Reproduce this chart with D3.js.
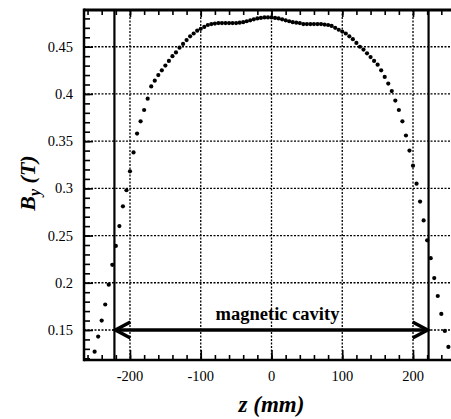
<!DOCTYPE html>
<html>
<head>
<meta charset="utf-8">
<script src="https://cdn.jsdelivr.net/npm/d3@7"></script>
</head>
<body style="margin:0">
<div id="chart"></div>
<script>
// field profile, sampled every 5 mm
var zVals = [-250,-245,-240,-235,-230,-225,-220,-215,-210,-205,-200,-195,-190,-185,-180,-175,-170,-165,-160,-155,
  -150,-145,-140,-135,-130,-125,-120,-115,-110,-105,-100,-95,-90,-85,-80,-75,-70,-65,-60,-55,
  -50,-45,-40,-35,-30,-25,-20,-15,-10,-5,0,5,10,15,20,25,30,35,40,45,
  50,55,60,65,70,75,80,85,90,95,100,105,110,115,120,125,130,135,140,145,
  150,155,160,165,170,175,180,185,190,195,200,205,210,215,220,225,230,235,240,245,250];
var byVals = [0.127,0.143,0.160,0.177,0.198,0.219,0.239,0.260,0.281,0.298,0.318,0.338,0.358,0.371,0.383,0.395,0.408,0.414,0.420,0.425,
  0.430,0.435,0.440,0.444,0.449,0.453,0.457,0.461,0.464,0.467,0.469,0.471,0.473,0.474,0.4745,0.475,0.475,0.475,0.475,0.475,
  0.475,0.4755,0.476,0.477,0.478,0.479,0.480,0.4805,0.481,0.481,0.481,0.4805,0.480,0.479,0.478,0.477,0.476,0.4755,0.475,0.474,
  0.474,0.474,0.474,0.474,0.474,0.4735,0.473,0.472,0.470,0.468,0.466,0.464,0.461,0.458,0.454,0.450,0.447,0.443,0.439,0.435,
  0.431,0.425,0.418,0.411,0.403,0.393,0.383,0.371,0.356,0.340,0.324,0.305,0.286,0.266,0.245,0.226,0.205,0.186,0.167,0.149,0.132];

var xTicks = [-200,-100,0,100,200];
var yTicks = [0.15,0.2,0.25,0.3,0.35,0.4,0.45];
var xTickLabels = ["-200","-100","0","100","200"];
var yTickLabels = ["0.15","0.2","0.25","0.3","0.35","0.4","0.45"];
var cavityEdges = [-222, 222];
var cavityLabel = "magnetic cavity";
var arrowLevel = 0.15;

var width = 451, height = 419;
var margin = {top: 10, left: 84, bottom: 360, right: 459};
var serif = "Times New Roman";

var x = d3.scaleLinear().domain([-265, 265]).range([margin.left, margin.right]);
var y = d3.scaleLinear().domain([0.1182, 0.4889]).range([margin.bottom, margin.top]);

var svg = d3.select("#chart").append("svg")
  .attr("width", width)
  .attr("height", height);

// texts first
svg.selectAll("text.xl")
  .data(xTicks).enter().append("text")
  .attr("class", "xl")
  .attr("x", d => x(d)).attr("y", 381)
  .attr("text-anchor", "middle")
  .attr("font-family", serif)
  .attr("font-size", 14.5)
  .text((d, i) => xTickLabels[i]);
svg.selectAll("text.yl")
  .data(yTicks).enter().append("text")
  .attr("class", "yl")
  .attr("x", 73).attr("y", d => y(d) + 5)
  .attr("text-anchor", "end")
  .attr("font-family", serif)
  .attr("font-size", 14.5)
  .text((d, i) => yTickLabels[i]);

svg.append("text")
  .attr("x", x(0) + 6).attr("y", y(arrowLevel) - 10)
  .attr("text-anchor", "middle")
  .attr("font-family", serif)
  .attr("font-size", 18.5).attr("font-weight", "bold")
  .text(cavityLabel);

svg.append("text")
  .attr("x", x(0)).attr("y", 412)
  .attr("text-anchor", "middle")
  .attr("font-family", serif)
  .attr("font-size", 23).attr("font-weight", "bold").attr("font-style", "italic")
  .text("z (mm)");

var yt = svg.append("text")
  .attr("transform", "translate(35,183) rotate(-90)")
  .attr("text-anchor", "middle")
  .attr("font-family", serif)
  .attr("font-size", 22).attr("font-weight", "bold").attr("font-style", "italic");
yt.append("tspan").text("B");
yt.append("tspan").attr("font-size", 16).attr("dy", 5).text("y");
yt.append("tspan").attr("dy", -5).text(" (T)");

// dotted grid
svg.append("g").selectAll("line")
  .data(xTicks).enter().append("line")
  .attr("x1", d => x(d)).attr("x2", d => x(d))
  .attr("y1", margin.top).attr("y2", margin.bottom)
  .attr("stroke", "#000").attr("stroke-width", 1.3)
  .attr("stroke-dasharray", "2,1.5");
svg.append("g").selectAll("line")
  .data(yTicks).enter().append("line")
  .attr("x1", margin.left).attr("x2", margin.right)
  .attr("y1", d => y(d)).attr("y2", d => y(d))
  .attr("stroke", "#000").attr("stroke-width", 1.3)
  .attr("stroke-dasharray", "2,1.5");

// inward ticks on all four sides (labels drawn above)
var xMinor = d3.range(-260, 261, 20);
var yMinor = d3.range(0.12, 0.489, 0.01);
function tickOnly(g) {
  g.select(".domain").remove();
  g.selectAll(".tick text").remove();
  g.attr("font-family", null).attr("font-size", null);
  g.selectAll(".tick line").attr("stroke", "#000").attr("stroke-width", 1.6);
}
svg.append("g").attr("transform", "translate(0," + margin.bottom + ")")
  .call(d3.axisBottom(x).tickValues(xMinor).tickSize(-5)).call(tickOnly);
svg.append("g").attr("transform", "translate(0," + margin.top + ")")
  .call(d3.axisTop(x).tickValues(xMinor).tickSize(-5)).call(tickOnly);
svg.append("g").attr("transform", "translate(" + margin.left + ",0)")
  .call(d3.axisLeft(y).tickValues(yMinor).tickSize(-6)).call(tickOnly);
svg.append("g").attr("transform", "translate(0," + margin.bottom + ")")
  .call(d3.axisBottom(x).tickValues(xTicks).tickSize(-10)).call(tickOnly);
svg.append("g").attr("transform", "translate(0," + margin.top + ")")
  .call(d3.axisTop(x).tickValues(xTicks).tickSize(-7)).call(tickOnly);
svg.append("g").attr("transform", "translate(" + margin.left + ",0)")
  .call(d3.axisLeft(y).tickValues(yTicks).tickSize(-9)).call(tickOnly);

// frame
svg.append("line").attr("x1", margin.left).attr("x2", margin.right)
  .attr("y1", margin.top).attr("y2", margin.top).attr("stroke", "#000").attr("stroke-width", 3);
svg.append("line").attr("x1", margin.left).attr("x2", margin.right)
  .attr("y1", margin.bottom).attr("y2", margin.bottom).attr("stroke", "#000").attr("stroke-width", 2.5);
svg.append("line").attr("x1", margin.left).attr("x2", margin.left)
  .attr("y1", margin.top - 1.5).attr("y2", margin.bottom + 1.2).attr("stroke", "#000").attr("stroke-width", 2.5);

// cavity edges
svg.append("g").selectAll("line")
  .data(cavityEdges).enter().append("line")
  .attr("x1", d => x(d)).attr("x2", d => x(d))
  .attr("y1", margin.top).attr("y2", margin.bottom)
  .attr("stroke", "#000").attr("stroke-width", 2.2);

// double arrow
var ay = y(arrowLevel);
svg.append("line")
  .attr("x1", x(cavityEdges[0]) + 2).attr("x2", x(cavityEdges[1]) - 2)
  .attr("y1", ay).attr("y2", ay)
  .attr("stroke", "#000").attr("stroke-width", 3.5);
cavityEdges.forEach(function(e, i) {
  var tip = x(e) + (i === 0 ? 1 : -1);
  var dir = i === 0 ? 1 : -1;
  svg.append("path")
    .attr("d", "M" + (tip + dir * 15) + "," + (ay - 8) + "L" + tip + "," + ay + "L" + (tip + dir * 15) + "," + (ay + 8))
    .attr("fill", "none").attr("stroke", "#000").attr("stroke-width", 3.5);
});

// data points
svg.append("g").selectAll("circle")
  .data(zVals).enter().append("circle")
  .attr("cx", d => x(d))
  .attr("cy", (d, i) => y(byVals[i]))
  .attr("r", 2.1)
  .attr("fill", "#000");
</script>
</body>
</html>
